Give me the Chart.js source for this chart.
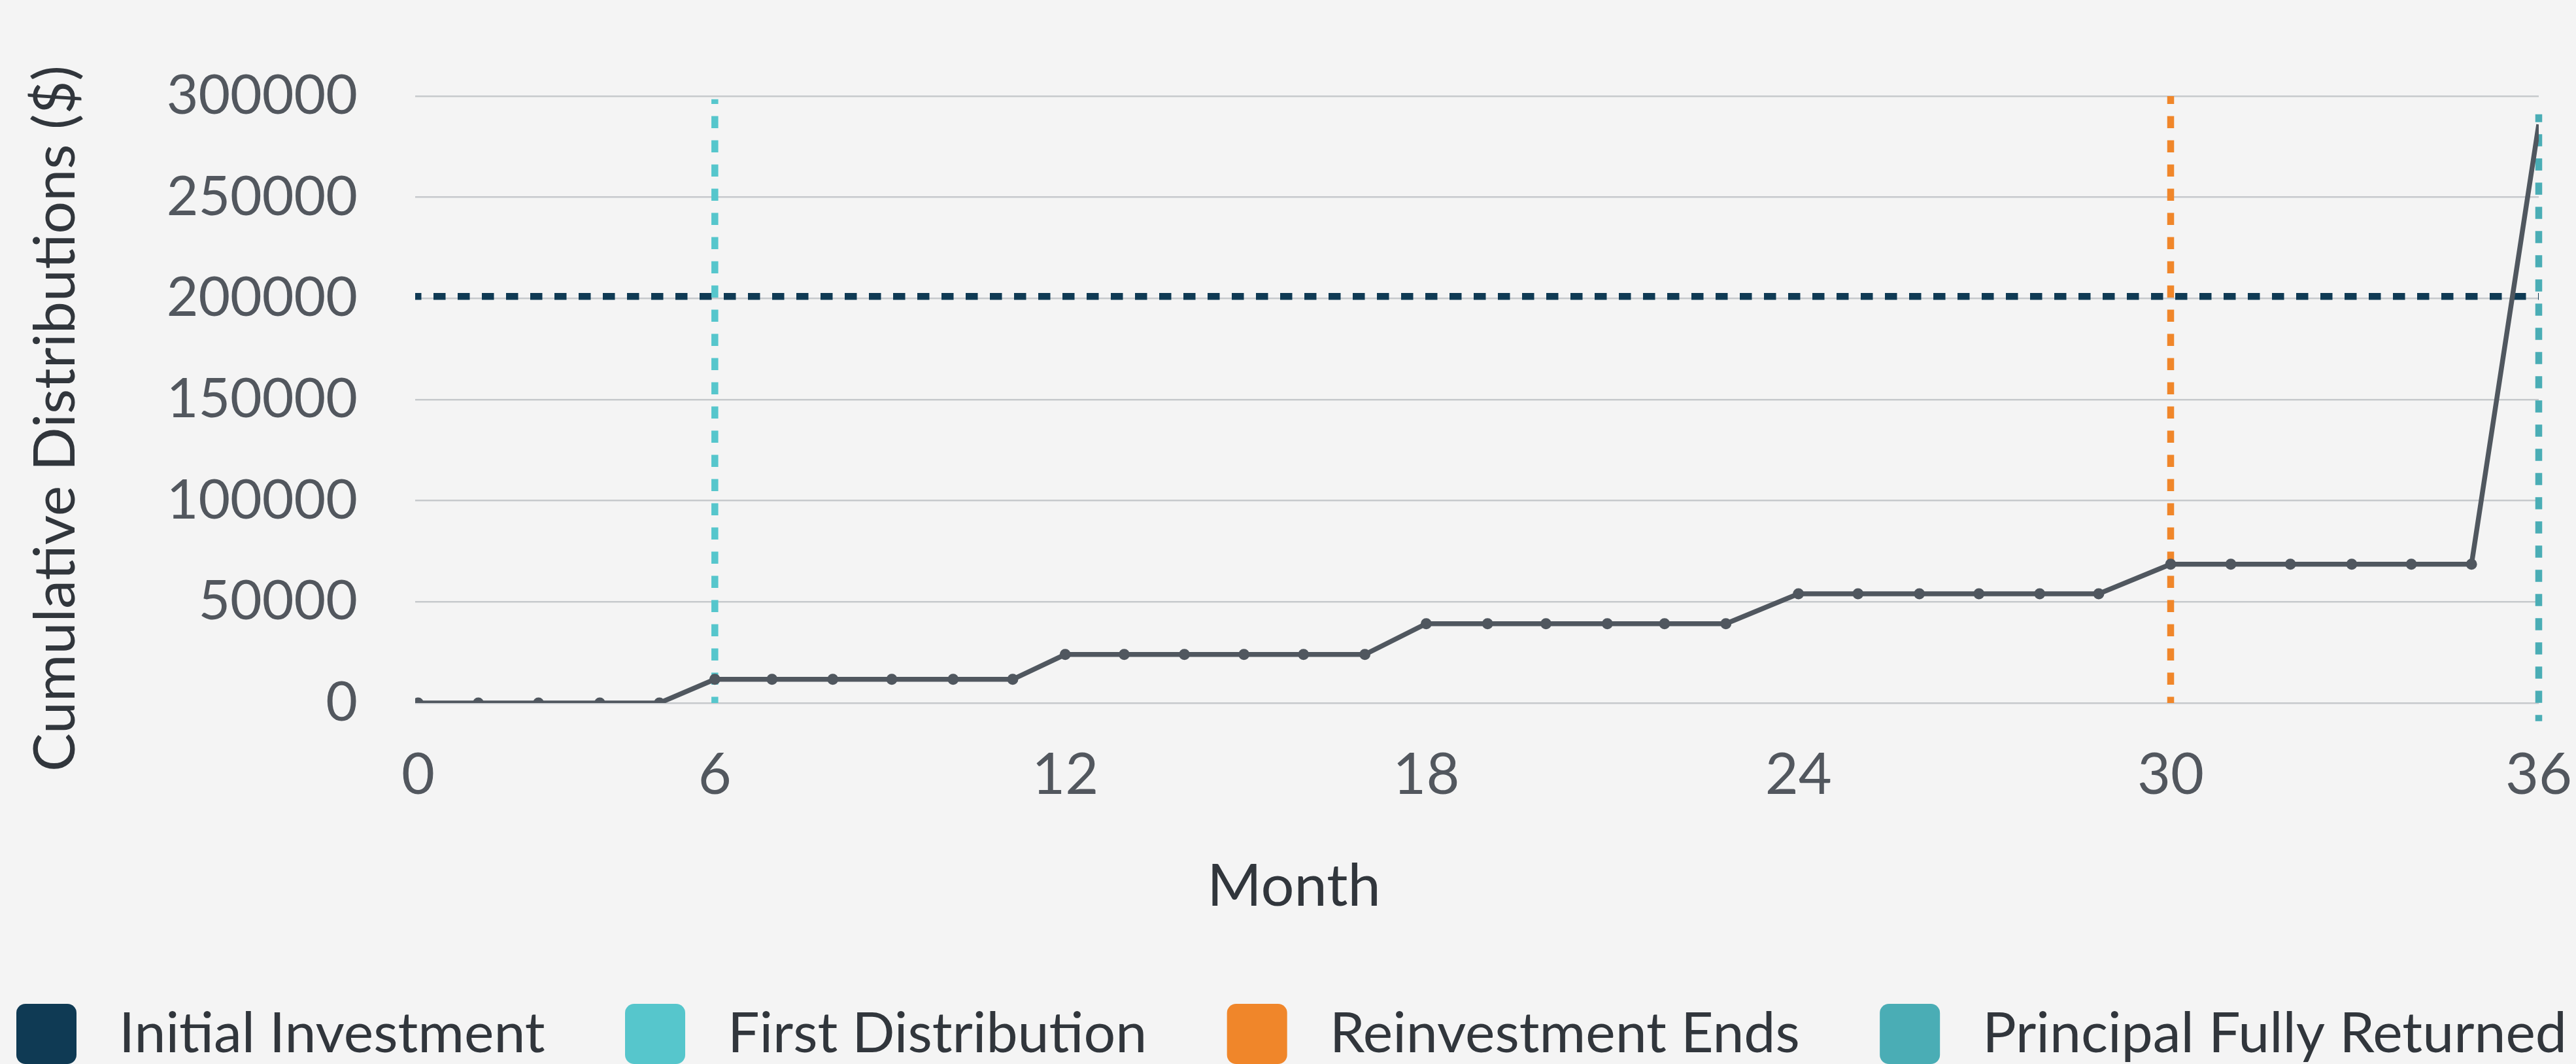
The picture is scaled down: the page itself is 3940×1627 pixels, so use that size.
<!DOCTYPE html>
<html>
<head>
<meta charset="utf-8">
<script src="https://cdn.jsdelivr.net/npm/chart.js@4.4.1/dist/chart.umd.min.js"></script>
<style>
  html, body { margin: 0; padding: 0; background: #f4f4f4; }
  #wrap { width: 3940px; height: 1627px; }
</style>
</head>
<body>
<div id="wrap"><canvas id="distChart" width="3940" height="1627"></canvas></div>
<script>
// x position (in months) of each distribution point
const monthPos = [0.05, 1.07, 2.09, 3.13, 4.14,
  5.08, 6.05, 7.08, 8.08, 9.12, 10.13,
  11.02, 12.02, 13.04, 14.05, 15.06, 16.10,
  17.14, 18.18, 19.17, 20.21, 21.18, 22.22,
  23.45, 24.46, 25.50, 26.51, 27.54, 28.54,
  29.76, 30.78, 31.79, 32.83, 33.84, 34.86,
  36];

// cumulative distributions ($)
const cumulative = [0, 0, 0, 0, 0,
  11700, 11700, 11700, 11700, 11700, 11700,
  24000, 24000, 24000, 24000, 24000, 24000,
  39200, 39200, 39200, 39200, 39200, 39200,
  54000, 54000, 54000, 54000, 54000, 54000,
  68600, 68600, 68600, 68600, 68600, 68600,
  286000];

// x axis tick positions and their labels
const xTickPos = [0.05, 5.08, 11.02, 17.14, 23.45, 29.76, 36];
const xTickLabels = ['0', '6', '12', '18', '24', '30', '36'];

// reference markers
const initialInvestment = 201000;
const firstDistMonth = 5.08;
const firstDistSpan = [0, 298500];
const reinvestEndMonth = 29.76;
const reinvestEndSpan = [0, 300000];
const principalMonth = 36;
const principalSpan = [-9000, 291000];

const FONT = 'Lato';
const TITLE_COLOR = '#31363c';

// axis titles, placed where the original puts them
const axisTitles = {
    id: 'axisTitles',
    afterDraw(chart) {
        const ctx = chart.ctx;
        ctx.save();
        ctx.fillStyle = TITLE_COLOR;
        ctx.textAlign = 'center';
        ctx.textBaseline = 'middle';
        ctx.font = '90px ' + FONT;
        ctx.fillText('Month', 1979, 1356);
        ctx.translate(86, 640);
        ctx.rotate(-Math.PI / 2);
        ctx.font = '88px ' + FONT;
        ctx.fillText('Cumulative Distributions ($)', 0, 0);
        ctx.restore();
    }
};

// legend drawn under the chart, one row spread over the width
const bottomLegend = {
    id: 'bottomLegend',
    afterDraw(chart) {
        const ctx = chart.ctx;
        const items = chart.data.datasets.filter(d => d.inLegend);
        ctx.save();
        ctx.font = '86px ' + FONT;
        const box = 92, gapText = 65;
        const left = 25, right = 3926;
        const widths = items.map(d => ctx.measureText(d.label).width);
        const used = widths.reduce((a, b) => a + b, 0) + items.length * (box + gapText);
        const gapItem = (right - left - used) / (items.length - 1);
        let x = left;
        const top = 1535;
        items.forEach((d, i) => {
            ctx.fillStyle = d.borderColor;
            ctx.beginPath();
            ctx.roundRect(x, top, box, box, 14);
            ctx.fill();
            ctx.fillStyle = TITLE_COLOR;
            ctx.textBaseline = 'middle';
            ctx.textAlign = 'left';
            ctx.fillText(d.label, x + box + gapText, top + box / 2);
            x += box + gapText + widths[i] + gapItem;
        });
        ctx.restore();
    }
};

function vLine(month, span) {
    return [{x: month, y: span[0]}, {x: month, y: span[1]}];
}

const dashed = {
    borderWidth: 10.5,
    borderDash: [18.5, 18.5],
    borderDashOffset: 9,
    pointRadius: 0,
    fill: false,
    inLegend: true
};

const datasets = [
    {
        label: 'Cumulative Distributions',
        data: monthPos.map((m, i) => ({x: m, y: cumulative[i]})),
        borderColor: '#50575f',
        backgroundColor: '#50575f',
        borderWidth: 7.5,
        pointRadius: c => c.dataIndex === monthPos.length - 1 ? 0 : 7.5,
        pointBorderWidth: 2,
        pointBackgroundColor: '#50575f',
        pointBorderColor: '#50575f',
        order: 0
    },
    Object.assign({}, dashed, {
        label: 'Initial Investment',
        data: [{x: 0, y: initialInvestment}, {x: 36, y: initialInvestment}],
        borderColor: '#0f3a54',
        order: 4
    }),
    Object.assign({}, dashed, {
        label: 'First Distribution',
        data: vLine(firstDistMonth, firstDistSpan),
        borderColor: '#56c6cc',
        order: 3
    }),
    Object.assign({}, dashed, {
        label: 'Reinvestment Ends',
        data: vLine(reinvestEndMonth, reinvestEndSpan),
        borderColor: '#f0862a',
        order: 2
    }),
    Object.assign({}, dashed, {
        label: 'Principal Fully Returned',
        data: vLine(principalMonth, principalSpan),
        borderColor: '#4aadb5',
        clip: false,
        order: 1
    })
];

const config = {
    type: 'line',
    data: { datasets: datasets },
    options: {
        responsive: false,
        animation: false,
        devicePixelRatio: 1,
        layout: { padding: { top: 147, right: 57, bottom: 147, left: 0 } },
        plugins: {
            legend: { display: false },
            tooltip: { enabled: false }
        },
        scales: {
            x: {
                type: 'linear',
                min: 0,
                max: 36,
                afterFit: s => { s.height = 405; s.paddingLeft = 0; s.paddingRight = 0; },
                afterBuildTicks: s => { s.ticks = xTickPos.map(v => ({value: v})); },
                grid: { display: false },
                border: { display: false },
                ticks: {
                    autoSkip: false,
                    maxRotation: 0,
                    padding: 50,
                    color: '#52575e',
                    font: { family: FONT, size: 88 },
                    callback: (v, i) => xTickLabels[i]
                }
            },
            y: {
                min: 0,
                max: 300000,
                afterFit: s => { s.width = 635; },
                grid: { color: '#c6c9cc', lineWidth: 2.5, drawTicks: false },
                border: { display: false },
                ticks: {
                    stepSize: 50000,
                    padding: 88,
                    color: '#52575e',
                    font: { family: FONT, size: 84 },
                    callback: v => String(v)
                }
            }
        }
    },
    plugins: [axisTitles, bottomLegend]
};

const ctx = document.getElementById('distChart').getContext('2d');
const chart = new Chart(ctx, config);
</script>
</body>
</html>
